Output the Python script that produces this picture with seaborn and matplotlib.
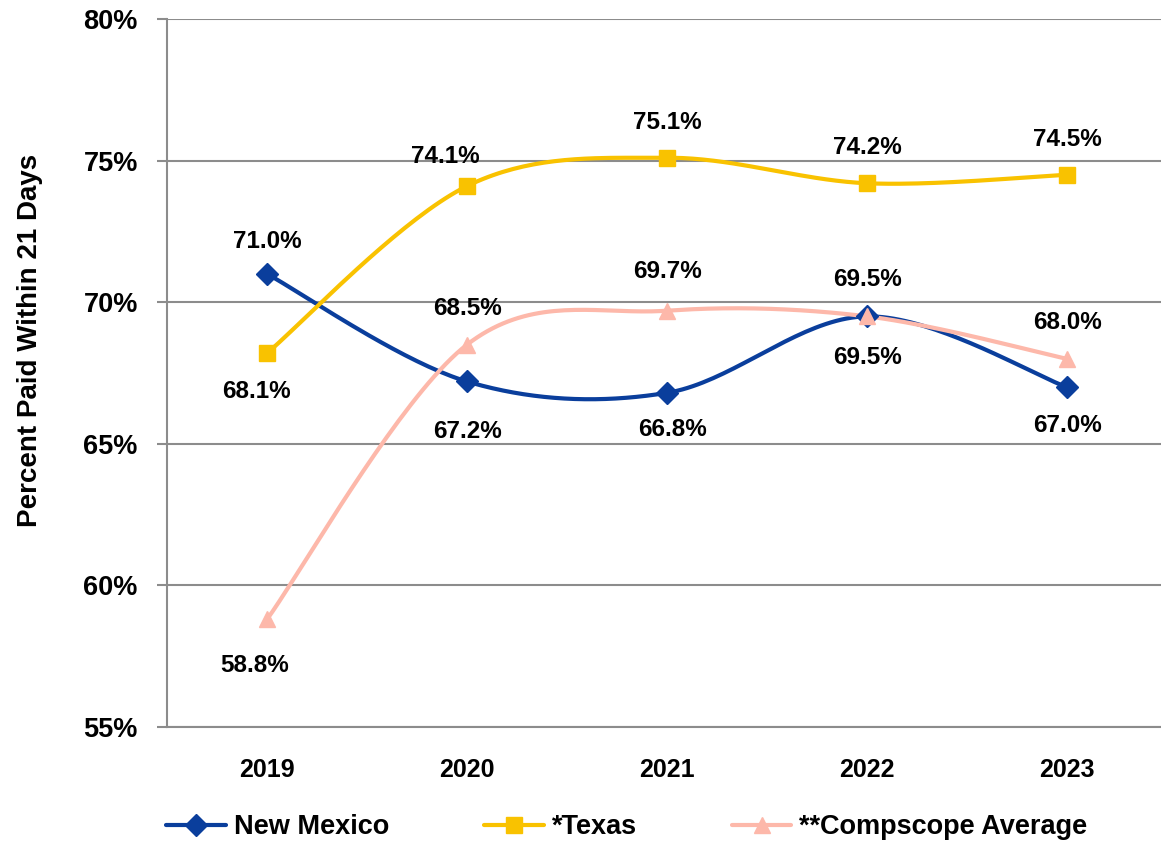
import numpy as np
import pandas as pd
import matplotlib
matplotlib.use("Agg")
import matplotlib.pyplot as plt
from matplotlib.lines import Line2D
import seaborn as sns

# ---- data ----
years = ["2019", "2020", "2021", "2022", "2023"]
new_mexico = [71.0, 67.2, 66.8, 69.5, 67.0]
texas = [68.2, 74.1, 75.1, 74.2, 74.5]
texas_labels = ["68.1%", "74.1%", "75.1%", "74.2%", "74.5%"]
compscope = [58.8, 68.5, 69.7, 69.5, 68.0]
series_names = ["New Mexico", "*Texas", "**Compscope Average"]
yticks = [55, 60, 65, 70, 75, 80]

# ---- style ----
sns.set_theme(style="white")
FONT = ["Liberation Sans", "DejaVu Sans"]
plt.rcParams["font.family"] = FONT
plt.rcParams["font.weight"] = "bold"
plt.rcParams["text.color"] = "black"
plt.rcParams["xtick.labelcolor"] = "black"
plt.rcParams["ytick.labelcolor"] = "black"

colors = ["#0A3E9C", "#F9C200", "#FDB8AA"]
markers = ["D", "s", "^"]
msizes = [11, 11, 12]
GRID = "#8C8C8C"

DPI = 100
fig = plt.figure(figsize=(11.61, 8.43), dpi=DPI)
ax = fig.add_axes([167 / 1161, 1 - 727 / 843, 1000 / 1161, (727 - 19) / 843])


def smooth(xs, ys, n=40):
    """Excel-like smoothed line: cubic Bezier with Catmull-Rom control points."""
    P = np.column_stack([xs, ys]).astype(float)
    out = []
    m = len(P)
    for i in range(m - 1):
        p0 = P[i - 1] if i > 0 else P[i]
        p1 = P[i]
        p2 = P[i + 1]
        p3 = P[i + 2] if i + 2 < m else P[i + 1]
        c1 = p1 + (p2 - p0) / 6.0
        c2 = p2 - (p3 - p1) / 6.0
        t = np.linspace(0, 1, n)[:, None]
        seg = (1 - t) ** 3 * p1 + 3 * (1 - t) ** 2 * t * c1 + 3 * (1 - t) * t ** 2 * c2 + t ** 3 * p2
        out.append(seg if i == 0 else seg[1:])
    return np.vstack(out)


xs = np.arange(len(years))
all_series = [new_mexico, texas, compscope]
for k, (vals, c, mk, ms) in enumerate(zip(all_series, colors, markers, msizes)):
    curve = smooth(xs, vals)
    df = pd.DataFrame({"x": curve[:, 0], "y": curve[:, 1]})
    sns.lineplot(data=df, x="x", y="y", sort=False, color=c, lw=3, ax=ax,
                 estimator=None, zorder=3 + k * 0.1)
    ax.plot(xs, vals, linestyle="none", marker=mk, ms=ms, color=c,
            markeredgecolor=c, zorder=4)

# ---- data labels (offsets in pixels: dx, dy up) ----
offsets = [
    [(0, 32), (0, -50), (5, -37), (0, 37), (0, -38)],
    [(-11, -38), (-22, 30), (0, 35), (0, 36), (0, 35)],
    [(-12, -46), (0, 36), (0, 39), (0, -41), (0, 36)],
]
label_sets = [
    [f"{v:.1f}%" for v in new_mexico],
    texas_labels,
    [f"{v:.1f}%" for v in compscope],
]
for vals, labs, offs in zip(all_series, label_sets, offsets):
    for x, v, lab, (dx, dy) in zip(xs, vals, labs, offs):
        ax.annotate(lab, (x, v), xytext=(dx * 72 / DPI, dy * 72 / DPI),
                    textcoords="offset points", ha="center", va="center",
                    fontsize=17.5, fontweight="bold", color="black", zorder=6)

# ---- axes ----
ax.set_xlim(-0.5, 4.5)
ax.set_ylim(55, 80)
ax.set_yticks(yticks)
ax.set_yticklabels([f"{t}%" for t in yticks], fontsize=19.5, fontweight="bold", color="black")
ax.set_xticks(xs)
ax.set_xticklabels(years, fontsize=18, fontweight="bold", color="black")
ax.set_xticks(np.arange(-0.5, 4.6, 1.0), minor=True)
ax.tick_params(axis="x", which="major", length=0, pad=22)
ax.tick_params(axis="x", which="minor", length=7, width=1.5, color=GRID, direction="out")
ax.tick_params(axis="y", which="major", length=7, width=1.5, color=GRID, direction="out", pad=14, left=True)
ax.yaxis.grid(True, color=GRID, lw=1.5)
ax.xaxis.grid(False)
for s in ["top", "right"]:
    ax.spines[s].set_visible(False)
for s in ["left", "bottom"]:
    ax.spines[s].set_color(GRID)
    ax.spines[s].set_linewidth(1.5)
ax.set_xlabel("")
ax.set_ylabel("")
ax.set_axisbelow(True)

fig.text(30 / 1161, 1 - 340 / 843, "Percent Paid Within 21 Days", rotation=90,
         ha="center", va="center", fontsize=20, fontweight="bold", color="black")

handles = [Line2D([0], [0], color=c, lw=3, marker=mk, ms=ms, markeredgecolor=c)
           for c, mk, ms in zip(colors, markers, msizes)]
leg = fig.legend(handles, series_names, loc="center", bbox_to_anchor=(627 / 1161, 1 - 827 / 843),
                 ncol=3, frameon=False, handlelength=2.2, handletextpad=0.3,
                 columnspacing=3.5, prop={"family": FONT, "weight": "bold", "size": 19.5})
for t in leg.get_texts():
    t.set_color("black")

fig.savefig("out.png", dpi=DPI)
